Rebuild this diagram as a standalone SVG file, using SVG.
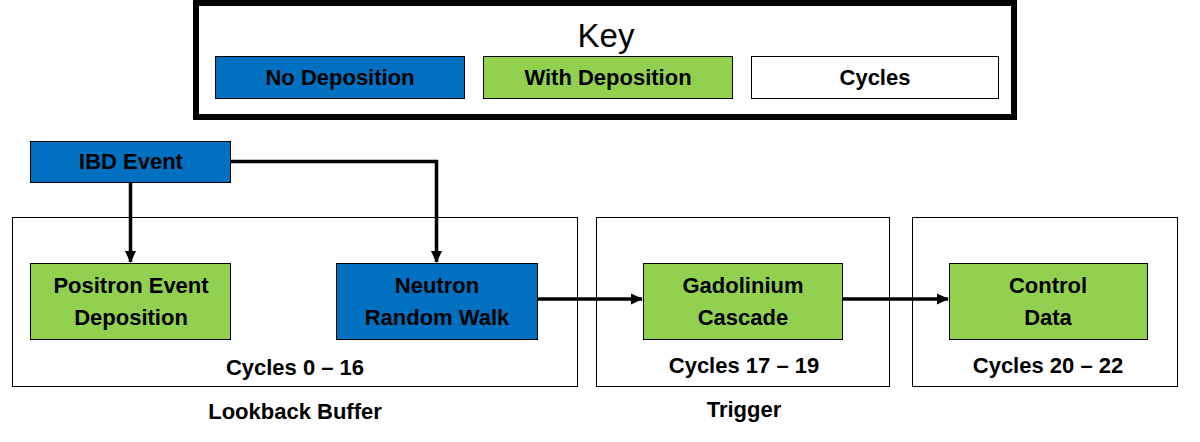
<svg xmlns="http://www.w3.org/2000/svg" width="1200" height="442" viewBox="0 0 1200 442">
<defs>
<style>
.blue{fill:#0070C0;stroke:#000;stroke-width:1}
.green{fill:#92D050;stroke:#000;stroke-width:1}
.white{fill:#fff;stroke:#000;stroke-width:1}
.frame{fill:none;stroke:#000;stroke-width:1}
.t{font-family:"Liberation Sans",Arial,sans-serif;font-weight:bold;font-size:22px;fill:#000;text-anchor:middle}
.conn{fill:none;stroke:#000;stroke-width:3.5}
</style>
<marker id="arr" markerWidth="12" markerHeight="12" refX="11" refY="6" orient="auto" markerUnits="userSpaceOnUse" viewBox="0 0 12 12">
<path d="M0,0.5 L12,6 L0,11.5 Z" fill="#000"/>
</marker>
</defs>
<rect width="1200" height="442" fill="#fff"/>
<g id="key">
<rect x="196" y="3" width="818" height="114" fill="#fff" stroke="#000" stroke-width="6"/>
<text x="606" y="47" style="font-family:'Liberation Sans',Arial,sans-serif;font-size:33px;text-anchor:middle">Key</text>
<rect class="blue" x="215.5" y="56.5" width="249" height="42"/>
<text class="t" x="340" y="85">No Deposition</text>
<rect class="green" x="483.5" y="56.5" width="249" height="42"/>
<text class="t" x="608" y="85">With Deposition</text>
<rect class="white" x="751.5" y="56.5" width="247" height="42"/>
<text class="t" x="875" y="85">Cycles</text>
</g>
<g id="lookback">
<rect class="frame" x="12.5" y="217.5" width="565" height="169"/>
<text class="t" x="295" y="375">Cycles 0 – 16</text>
<text class="t" x="295" y="419">Lookback Buffer</text>
</g>
<g id="trigger">
<rect class="frame" x="596.5" y="217.5" width="293" height="169"/>
<text class="t" x="744" y="373">Cycles 17 – 19</text>
<text class="t" x="744" y="417">Trigger</text>
</g>
<g id="control">
<rect class="frame" x="912.5" y="217.5" width="265" height="169"/>
<text class="t" x="1048" y="373">Cycles 20 – 22</text>
</g>
<g id="ibd">
<rect class="blue" x="30.5" y="141.5" width="200" height="41"/>
<text class="t" x="131" y="169">IBD Event</text>
</g>
<g id="positron">
<rect class="green" x="30.5" y="263.5" width="200" height="76"/>
<text class="t" x="131" y="293">Positron Event</text>
<text class="t" x="131" y="325">Deposition</text>
</g>
<g id="neutron">
<rect class="blue" x="336.5" y="263.5" width="201" height="76"/>
<text class="t" x="437" y="293">Neutron</text>
<text class="t" x="437" y="325">Random Walk</text>
</g>
<g id="gadolinium">
<rect class="green" x="643.5" y="263.5" width="199" height="76"/>
<text class="t" x="743" y="293">Gadolinium</text>
<text class="t" x="743" y="325">Cascade</text>
</g>
<g id="controldata">
<rect class="green" x="949.5" y="263.5" width="198" height="76"/>
<text class="t" x="1048" y="293">Control</text>
<text class="t" x="1048" y="325">Data</text>
</g>
<g id="connectors">
<path class="conn" d="M130.5,183 V262" marker-end="url(#arr)"/>
<path class="conn" d="M231,161.5 H436.5 V262" marker-end="url(#arr)"/>
<path class="conn" d="M538,299 H642" marker-end="url(#arr)"/>
<path class="conn" d="M843,299 H948" marker-end="url(#arr)"/>
</g>
</svg>
